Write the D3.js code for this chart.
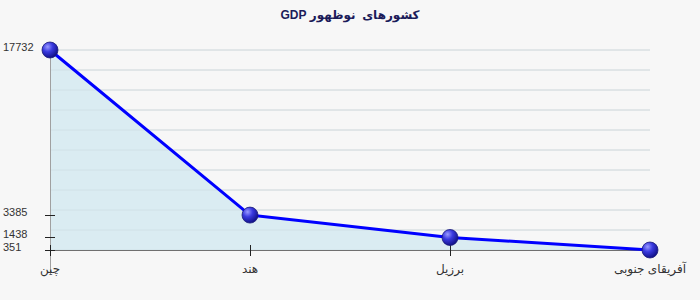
<!DOCTYPE html>
<html>
<head>
<meta charset="utf-8">
<script src="https://cdn.jsdelivr.net/npm/d3@7"></script>
<style>
  body{margin:0;background:#f7f7f7;}
  text{font-family:"Liberation Sans",Arial,"DejaVu Sans",sans-serif;}
</style>
</head>
<body>
<div id="chart"></div>
<script>
// data
var countries = ['چین','هند','برزیل','آفریقای جنوبی'];
var gdp = [17732, 3385, 1438, 351];
var title = 'کشورهای  نوظهور GDP';

var W = 700, H = 300;
var svg = d3.select('#chart').append('svg')
  .attr('width', W).attr('height', H);

svg.append('rect').attr('width', W).attr('height', H).attr('fill', '#f7f7f7');

var x = d3.scalePoint().domain(countries).range([50, 650]);
var y = d3.scaleLinear().domain([d3.min(gdp), d3.max(gdp)]).range([250, 50]);

// gradient for the markers
var defs = svg.append('defs');
var g = defs.append('radialGradient').attr('id','ball')
  .attr('cx','35%').attr('cy','30%').attr('r','70%');
g.append('stop').attr('offset','0%').attr('stop-color','#9a9aff');
g.append('stop').attr('offset','45%').attr('stop-color','#3a3ae0');
g.append('stop').attr('offset','100%').attr('stop-color','#12128a');

// horizontal grid, 10 even divisions
var grid = d3.range(0, 11).map(function(i){ return 50 + i*20; });
svg.selectAll('.grid').data(grid).enter().append('line')
  .attr('class','grid')
  .attr('x1', 50).attr('x2', 650)
  .attr('y1', function(d){return d;}).attr('y2', function(d){return d;})
  .attr('stroke','#d9d9d9').attr('stroke-width',1);

// area under line
var area = d3.area()
  .x(function(d,i){ return x(countries[i]); })
  .y0(250).y1(function(d){ return y(d); });
svg.append('path').datum(gdp)
  .attr('d', area).attr('fill','#d6eaf1').attr('fill-opacity',0.9);

// grid lines faintly on top of the fill
svg.selectAll('.grid2').data(grid).enter().append('line')
  .attr('x1', 50).attr('x2', 650)
  .attr('y1', function(d){return d;}).attr('y2', function(d){return d;})
  .attr('stroke','#cfdfe6').attr('stroke-width',1).attr('stroke-opacity',0.6);

// y axis line
svg.append('line').attr('x1',50.5).attr('x2',50.5).attr('y1',50).attr('y2',275)
  .attr('stroke','#a0a0a0');
// x axis line
svg.append('line').attr('x1',50).attr('x2',650).attr('y1',250.5).attr('y2',250.5)
  .attr('stroke','#707070');

// y ticks at data values
var yt = svg.append('g');
yt.selectAll('line').data(gdp).enter().append('line')
  .attr('x1',45).attr('x2',55)
  .attr('y1',function(d){return Math.round(y(d))+0.5;})
  .attr('y2',function(d){return Math.round(y(d))+0.5;})
  .attr('stroke','#222');
yt.selectAll('text').data(gdp).enter().append('text')
  .attr('x',3).attr('y',function(d){return y(d) + 1;})
  .attr('font-size',11).attr('fill','#333')
  .text(function(d){return d;});

// x ticks and labels
var xt = svg.append('g');
xt.selectAll('line').data(countries).enter().append('line')
  .attr('x1',function(d){return Math.round(x(d))+0.5;})
  .attr('x2',function(d){return Math.round(x(d))+0.5;})
  .attr('y1',245).attr('y2',256)
  .attr('stroke','#222');
xt.selectAll('text').data(countries).enter().append('text')
  .attr('x',function(d){return x(d);}).attr('y',273)
  .attr('text-anchor','middle').attr('direction','rtl')
  .attr('font-size',12).attr('fill','#333')
  .text(function(d){return d;});

// line
var line = d3.line()
  .x(function(d,i){ return x(countries[i]); })
  .y(function(d){ return y(d); });
svg.append('path').datum(gdp)
  .attr('d', line).attr('fill','none')
  .attr('stroke','#0000ff').attr('stroke-width',3);

// markers
svg.selectAll('.dot').data(gdp).enter().append('circle')
  .attr('cx',function(d,i){return x(countries[i]);})
  .attr('cy',function(d){return y(d);})
  .attr('r',8)
  .attr('fill','url(#ball)')
  .attr('stroke','#1a1a7a').attr('stroke-width',0.8);

// title
svg.append('text').attr('x',350).attr('y',19)
  .attr('text-anchor','middle').attr('direction','rtl')
  .attr('font-size',12).attr('font-weight','bold').attr('fill','#1c1c5a')
  .style('white-space','pre')
  .text(title);
</script>
</body>
</html>
